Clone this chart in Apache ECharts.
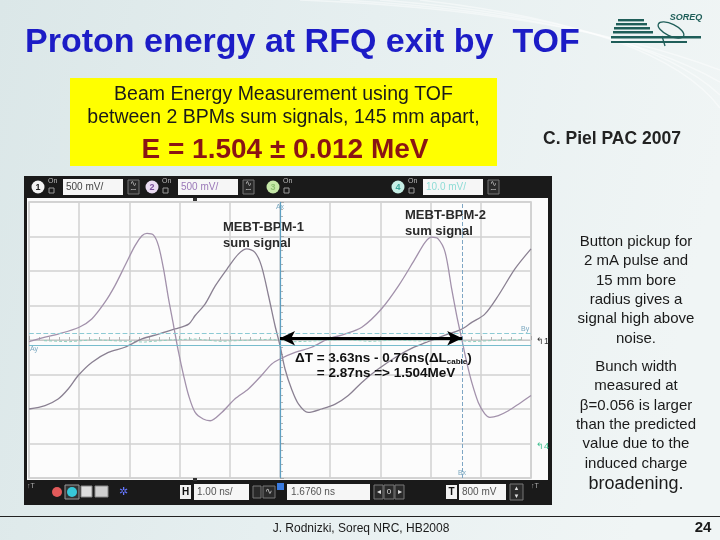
<!DOCTYPE html>
<html><head><meta charset="utf-8">
<script src="https://cdn.jsdelivr.net/npm/echarts/dist/echarts.min.js"></script>
<style>html,body{margin:0;padding:0;background:#e6eff0}#c{width:720px;height:540px}</style>
</head><body><div id="c"></div>
<script>
// ---- DATA (time in screen divisions, 1 div = 1.00 ns; volts in divisions) ----
const bpm2Time = [0,0.32,0.58,1.0,1.25,1.51,1.71,1.91,2.11,2.25,2.35,2.48,2.58,2.68,2.78,2.88,2.98,3.08,3.18,3.31,3.47,3.61,3.84,4.10,4.37,4.63,4.83,5.0,5.30,5.63,5.96,6.29,6.63,7.02,7.36,7.69,7.89,8.02,8.15,8.29,8.42,8.52,8.62,8.72,8.82,8.95,9.08,9.18,9.35,9.55,9.75,10.0];
const bpm2Volt = [-0.05,0.08,0.17,0.37,0.61,1.09,1.57,2.15,2.73,3.02,3.09,3.04,2.73,2.06,1.19,0.42,-0.36,-1.03,-1.61,-2.10,-2.29,-2.34,-2.10,-1.71,-1.42,-1.03,-0.70,-0.55,-0.36,-0.21,0.03,0.17,0.37,0.90,1.57,2.35,2.83,2.98,2.93,2.54,1.48,0.71,0.03,-0.65,-1.23,-1.81,-2.14,-2.24,-2.19,-2.05,-1.86,-1.61];
const bpm1Time = [0,0.32,0.58,0.78,0.98,1.25,1.58,1.91,2.25,2.58,2.91,3.18,3.31,3.51,3.71,3.97,4.17,4.34,4.50,4.63,4.77,4.90,5.0,5.10,5.23,5.37,5.56,5.83,6.10,6.36,6.63,6.95,7.36,7.65,7.91,8.25,8.60,8.82,9.08,9.35,9.68,10.0];
const bpm1Volt = [-2.0,-1.90,-1.71,-1.42,-1.03,-0.65,-0.36,-0.21,0.03,0.17,0.32,0.46,0.71,1.05,1.57,2.11,2.49,2.64,2.54,2.15,1.29,0.42,-0.16,-0.84,-1.42,-1.86,-2.10,-2.0,-1.86,-1.61,-1.23,-0.85,-0.45,-0.22,-0.07,0.12,0.30,0.51,0.75,1.29,2.06,2.64];
const ch4Time = [0.3,0.8,1.3,1.8,2.3,2.8,3.3,3.8,4.3,4.8,5.3,5.8,6.3,6.8,7.3,7.8,8.3,8.8,9.3,9.8];
const ch4Volt = [-0.02,-0.05,0.01,-0.03,-0.06,0.0,0.03,-0.04,-0.01,0.02,-0.05,-0.02,0.01,-0.04,0.0,-0.03,0.03,-0.05,-0.01,0.01];
const cursorAx = 5.0, cursorBx = 8.63, cursorAy = -0.15, cursorBy = 0.21, arrowY = 0.05;
const centerDiv = 5;

const FF = '"Liberation Sans", Arial, sans-serif';
const T = (text, x, y, size, opt) => Object.assign({
  type: 'text', z: 5,
  style: Object.assign({ text, x, y, font: (opt && opt.weight ? opt.weight + ' ' : '') + size + 'px ' + FF,
    fill: (opt && opt.fill) || '#1a1a1a', textAlign: (opt && opt.align) || 'left', align: (opt && opt.align) || 'left',
    textVerticalAlign: 'middle', verticalAlign: 'middle' }, (opt && opt.style) || {})
}, (opt && opt.el) || {});
const R = (x, y, w, h, fill, z, stroke) => ({ type: 'rect', z: z === undefined ? 3 : z, shape: { x, y, width: w, height: h }, style: { fill, stroke: stroke || null, lineWidth: 1 } });
const C = (cx, cy, r, fill, z) => ({ type: 'circle', z: z === undefined ? 4 : z, shape: { cx, cy, r }, style: { fill } });

const g = [];
// decorative white streaks at top right
[[300,0,560,10,720,70],[340,0,600,14,720,82],[380,0,640,20,720,95],[420,0,660,28,720,108]].forEach(a => {
  g.push({ type: 'bezierCurve', z: -20, shape: { x1: a[0], y1: a[1], cpx1: a[2], cpy1: a[3], x2: a[4], y2: a[5] }, style: { stroke: 'rgba(255,255,255,0.45)', lineWidth: 1.5, fill: null } });
});
// title
g.push(T('Proton energy at RFQ exit by  TOF', 25, 43, 34, { weight: 'bold', fill: '#1c1cc6' }));
// logo
const teal = '#1f5e59';
[[618,19,26,2.4],[616,23,31,2.4],[614,27,36,2.4],[613,31,40,2.4],[611,36,90,2.4],[611,41,76,2]].forEach(b => g.push(R(b[0], b[1], b[2], b[3], teal, 4)));
g.push({ type: 'ellipse', z: 4, x: 671, y: 30, rotation: -0.45, shape: { cx: 0, cy: 0, rx: 14, ry: 6 }, style: { fill: null, stroke: teal, lineWidth: 1.3 } });
g.push({ type: 'line', z: 4, shape: { x1: 662, y1: 36, x2: 665, y2: 46 }, style: { stroke: teal, lineWidth: 1.3 } });
g.push(T('SOREQ', 686, 18, 9, { weight: 'italic bold', fill: teal, align: 'center' }));
// yellow box
g.push(R(70, 78, 427, 88, '#ffff00', 3));
g.push(T('Beam Energy Measurement using TOF', 283.5, 95, 19.5, { align: 'center' }));
g.push(T('between 2 BPMs sum signals, 145 mm apart,', 283.5, 118, 19.5, { align: 'center' }));
g.push(T('E = 1.504 \u00b1 0.012 MeV', 285, 150, 28, { weight: 'bold', fill: '#8a1414', align: 'center' }));
g.push(T('C. Piel PAC 2007', 612, 139, 17.5, { weight: 'bold', fill: '#222', align: 'center' }));
// right text
const rt1 = ['Button pickup for', '2 mA pulse and', '15 mm bore', 'radius gives a', 'signal high above', 'noise.'];
rt1.forEach((s, i) => g.push(T(s, 636, 242 + i * 19.3, 15, { align: 'center' })));
const rt2 = ['Bunch width', 'measured at', '\u03b2=0.056 is larger', 'than the predicted', 'value due to the', 'induced charge'];
rt2.forEach((s, i) => g.push(T(s, 636, 367 + i * 19.3, 15, { align: 'center' })));
g.push(T('broadening.', 636, 484, 18, { align: 'center' }));
// footer
g.push({ type: 'line', z: 3, shape: { x1: 0, y1: 516.5, x2: 720, y2: 516.5 }, style: { stroke: '#222', lineWidth: 1 } });
g.push(T('J. Rodnizki, Soreq NRC, HB2008', 361, 529, 12, { align: 'center' }));
g.push(T('24', 703, 528, 15, { weight: 'bold', align: 'center' }));

// oscilloscope frame
g.push(R(24, 176, 528, 329, '#1a1a1a', -10));
g.push(R(27, 198, 521, 282, '#fbfbfb', -9));
// top toolbar
function chan(cx, num, cfill, ncol, box) {
  g.push(C(cx, 187, 6.5, cfill));
  g.push(T(num, cx, 187.5, 9, { weight: 'bold', fill: ncol, align: 'center' }));
  g.push(T('On', cx + 10, 181, 7, { fill: '#bbb' }));
  g.push(R(cx + 11, 188, 5, 5, null, 4, '#999'));
  if (box) {
    g.push(R(box[0], 179, box[1], 16, '#f6f6f6', 4));
    g.push(T(box[2], box[0] + 3, 187, 10, { fill: box[3] }));
    g.push(R(box[0] + box[1] + 5, 180, 11, 14, '#2a2a2a', 4, '#777'));
    g.push(T('\u223f', box[0] + box[1] + 10.5, 184, 8, { fill: '#ccc', align: 'center' }));
    g.push(T('\u223c', box[0] + box[1] + 10.5, 190, 8, { fill: '#ccc', align: 'center' }));
  }
}
chan(38, '1', '#f4f4f4', '#222', [63, 60, '500 mV/', '#444']);
chan(152, '2', '#eadcf2', '#7a4f9a', [178, 60, '500 mV/', '#9a78b8']);
chan(273, '3', '#c6e8a8', '#8cc070', null);
chan(398, '4', '#c6efe6', '#3aa59a', [423, 60, '10.0 mV/', '#8fdcd6']);
// bottom toolbar
g.push(T('\u2191T', 27, 486, 7, { fill: '#aaa' }));
g.push(R(65, 485, 14, 14, '#333', 4, '#999'));
g.push(C(57, 492, 5, '#e25a5a'));
g.push(C(72, 492, 5, '#37c8d8'));
g.push(R(81, 486, 11, 11, '#ddd', 4, '#888'));
g.push(R(95, 486, 13, 11, '#cfcfcf', 4, '#888'));
g.push(T('\u2732', 123, 492, 11, { fill: '#6677ff', align: 'center' }));
g.push(R(180, 485, 11, 14, '#f2f2f2', 4));
g.push(T('H', 185.5, 492, 10, { weight: 'bold', fill: '#111', align: 'center' }));
g.push(R(194, 484, 55, 16, '#f6f6f6', 4));
g.push(T('1.00 ns/', 197, 492, 10, { fill: '#555' }));
g.push(R(253, 486, 8, 12, '#2a2a2a', 4, '#777'));
g.push(R(263, 486, 12, 12, '#2a2a2a', 4, '#777'));
g.push(T('\u223f', 269, 492, 9, { fill: '#ccc', align: 'center' }));
g.push(R(277, 483, 7, 7, '#3a7be0', 4));
g.push(R(287, 484, 83, 16, '#f6f6f6', 4));
g.push(T('1.6760 ns', 291, 492, 10, { fill: '#555' }));
g.push(R(374, 485, 9, 14, '#2a2a2a', 4, '#777'));
g.push(T('\u25c2', 378.5, 492, 8, { fill: '#ddd', align: 'center' }));
g.push(R(384, 485, 10, 14, '#2a2a2a', 4, '#777'));
g.push(T('0', 389, 492, 8, { fill: '#ddd', align: 'center' }));
g.push(R(395, 485, 9, 14, '#2a2a2a', 4, '#777'));
g.push(T('\u25b8', 399.5, 492, 8, { fill: '#ddd', align: 'center' }));
g.push(R(446, 485, 11, 14, '#f2f2f2', 4));
g.push(T('T', 451.5, 492, 10, { weight: 'bold', fill: '#111', align: 'center' }));
g.push(R(459, 484, 47, 16, '#f6f6f6', 4));
g.push(T('800 mV', 462, 492, 10, { fill: '#555' }));
g.push(R(510, 484, 13, 16, '#2a2a2a', 4, '#777'));
g.push(T('\u25b2', 516.5, 488, 6, { fill: '#ddd', align: 'center' }));
g.push(T('\u25bc', 516.5, 496, 6, { fill: '#ddd', align: 'center' }));
g.push(T('\u2191T', 531, 486, 7, { fill: '#aaa' }));
// small markers on plot frame
g.push(R(193, 198, 4, 3, '#333', 4));
g.push(R(193, 478, 4, 3, '#333', 4));
g.push(T('\u21b01', 536, 342, 9, { fill: '#333' }));
g.push(T('\u21b04', 536, 447, 9, { fill: '#3fbf8f' }));
g.push(T('Ax', 280, 207, 7, { fill: '#7aa8c0', align: 'center' }));
g.push(T('Bx', 462, 473, 7, { fill: '#7aa8c0', align: 'center' }));
g.push(T('Ay', 30, 349, 7, { fill: '#7aa8c0' }));
g.push(T('By', 521, 329, 7, { fill: '#7aa8c0' }));
// in-plot annotations
g.push(T('MEBT-BPM-1', 223, 227, 13, { weight: 'bold', fill: '#2a2a2a' }));
g.push(T('sum signal', 223, 243, 13, { weight: 'bold', fill: '#2a2a2a' }));
g.push(T('MEBT-BPM-2', 405, 215, 13, { weight: 'bold', fill: '#2a2a2a' }));
g.push(T('sum signal', 405, 231, 13, { weight: 'bold', fill: '#2a2a2a' }));
g.push({ type: 'text', z: 6, style: { x: 295, y: 358, text: '{a|\u0394T = 3.63ns - 0.76ns(\u0394L}{s|cable}{a|)}', textVerticalAlign: 'middle', verticalAlign: 'middle',
  rich: { a: { fontSize: 13.5, fontWeight: 'bold', fontFamily: FF, fill: '#111', lineHeight: 16 }, s: { fontSize: 8, fontWeight: 'bold', fontFamily: FF, fill: '#111', padding: [8, 0, 0, 0], lineHeight: 16 } } } });
g.push(T('= 2.87ns => 1.504MeV', 386, 373, 13.5, { weight: 'bold', fill: '#111', align: 'center' }));

const xy = (t, v) => t.map((x, i) => [x - centerDiv, v[i]]);

const chart = echarts.init(document.getElementById('c'), null, { renderer: 'canvas' });
chart.setOption({
  animation: false,
  backgroundColor: { type: 'linear', x: 0, y: 0, x2: 1, y2: 0.3, colorStops: [{ offset: 0, color: '#dbe7e8' }, { offset: 0.5, color: '#e6eff0' }, { offset: 1, color: '#f0f5f5' }] },
  grid: { left: 29, right: 189, top: 202, bottom: 62, show: true, backgroundColor: '#fcfcfc', borderColor: '#c8c8c8', borderWidth: 1.5 },
  xAxis: { type: 'value', min: -5, max: 5, interval: 1,
    axisLine: { show: true, onZero: true, lineStyle: { color: '#c8c8c8', width: 1 } },
    axisTick: { show: true, inside: true, length: 4, lineStyle: { color: '#aaa' } },
    minorTick: { show: true, splitNumber: 5, length: 3, lineStyle: { color: '#b5b5b5' } },
    axisLabel: { show: false }, splitLine: { show: true, lineStyle: { color: '#d2d2d2', width: 1.5 } } },
  yAxis: { type: 'value', min: -4, max: 4, interval: 1,
    axisLine: { show: true, onZero: true, lineStyle: { color: '#c8c8c8', width: 1 } },
    axisTick: { show: true, inside: true, length: 4, lineStyle: { color: '#aaa' } },
    minorTick: { show: true, splitNumber: 5, length: 3, lineStyle: { color: '#b5b5b5' } },
    axisLabel: { show: false }, splitLine: { show: true, lineStyle: { color: '#d2d2d2', width: 1.5 } } },
  graphic: { elements: g },
  series: [
    { type: 'line', name: 'noise', data: xy(ch4Time, ch4Volt), showSymbol: false, smooth: false, z: 3,
      lineStyle: { color: '#8fd0bf', width: 1, type: [3, 2] },
      markLine: { silent: true, symbol: ['none', 'none'], label: { show: false },
        data: [
          { xAxis: cursorAx - centerDiv, lineStyle: { color: '#5d9fc2', type: 'solid', width: 1.2 } },
          { xAxis: cursorBx - centerDiv, lineStyle: { color: '#7ea6c4', type: 'dashed', width: 1 } },
          { yAxis: cursorAy, lineStyle: { color: '#78bccd', type: 'solid', width: 1.2 } },
          { yAxis: cursorBy, lineStyle: { color: '#8ccad4', type: 'dashed', width: 1.2 } }
        ] } },
    { type: 'line', name: 'MEBT-BPM-1', data: xy(bpm1Time, bpm1Volt), showSymbol: false, smooth: 0.3, z: 4,
      lineStyle: { color: '#8a8092', width: 1.3 } },
    { type: 'line', name: 'MEBT-BPM-2', data: xy(bpm2Time, bpm2Volt), showSymbol: false, smooth: 0.3, z: 4,
      lineStyle: { color: '#a291ab', width: 1.3 } },
    { type: 'line', name: 'arrow', data: [], z: 6,
      markLine: { silent: true, symbol: ['arrow', 'arrow'], symbolSize: [11, 15], label: { show: false },
        lineStyle: { color: '#000', width: 3, type: 'solid' },
        data: [[{ coord: [cursorAx - centerDiv, arrowY] }, { coord: [cursorBx - centerDiv, arrowY] }]] } }
  ]
});
</script></body></html>
